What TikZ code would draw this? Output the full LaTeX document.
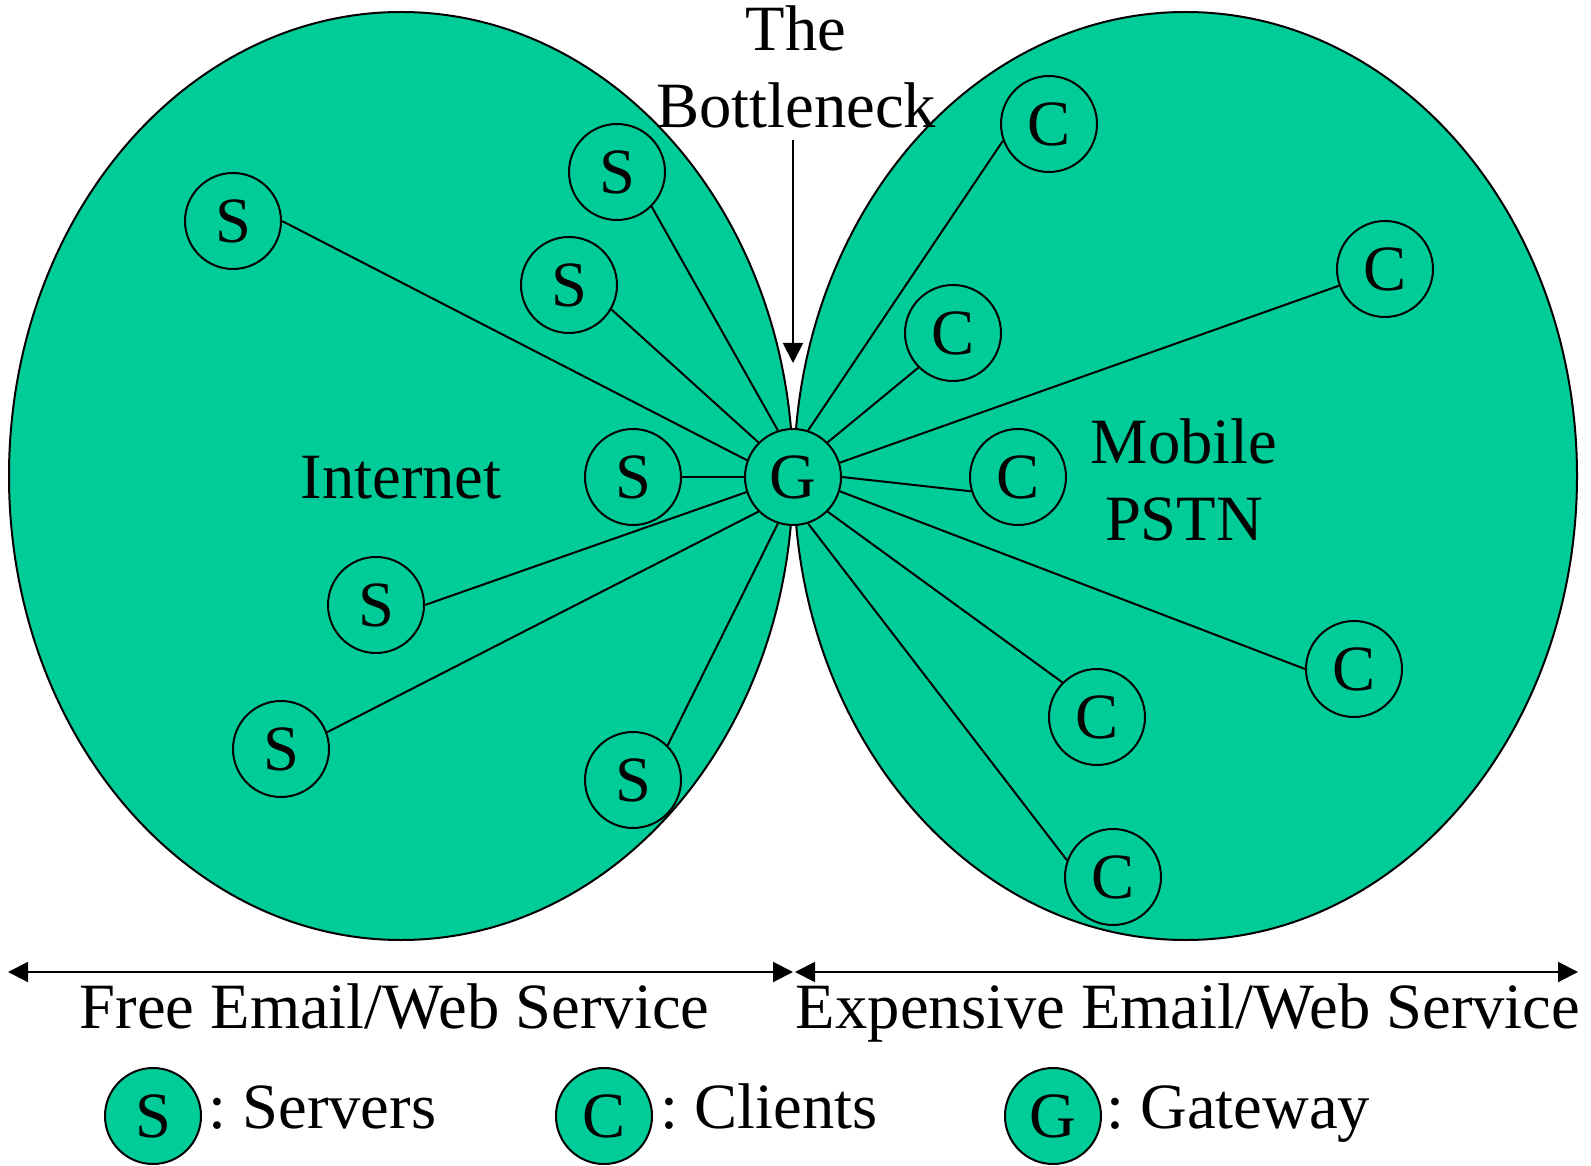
\documentclass[tikz,border=0pt]{standalone}
\usepackage{fontspec}
\setmainfont{Liberation Serif}
\usetikzlibrary{arrows.meta}
\frenchspacing

\definecolor{netgreen}{RGB}{0,204,153}

\begin{document}
\begin{tikzpicture}[x=0.5pt,y=-0.5pt,
		font=\fontsize{32.3}{38.5}\selectfont,
		zone/.style={fill=netgreen,draw=black,line width=1pt},
		host/.style={circle,fill=netgreen,draw=black,line width=1pt,minimum size=48pt,inner sep=0pt},
		link/.style={line width=1pt},
		span/.style={line width=1pt,{Triangle[length=10pt,width=10pt]}-{Triangle[length=10pt,width=10pt]}}]

	\useasboundingbox (0,0) rectangle (1591,1166);

	\draw[zone] (401,476) ellipse [x radius=196pt, y radius=232pt];
	\draw[zone] (1185.5,476) ellipse [x radius=195.75pt, y radius=232pt];
	\node[anchor=base] (inet) at (401,498) {Internet};
	\node[anchor=base,align=center] (pstn) at (1184,540) {Mobile\\PSTN};

	\node[anchor=base,align=center,inner sep=6pt,text depth=0pt] (bn) at (796,128) {The\\Bottleneck};
	\coordinate (neck) at (793,363);
	\draw[link,-{Triangle[length=10pt,width=10pt]}] (bn.south -| neck) -- (neck);

	\node[host] (g) at (793,477) {G};
	\node[host] (s1) at (233,221) {S};
	\node[host] (s2) at (617,172) {S};
	\node[host] (s3) at (569,285) {S};
	\node[host] (s4) at (633,477) {S};
	\node[host] (s5) at (376,605) {S};
	\node[host] (s6) at (281,749) {S};
	\node[host] (s7) at (633,780) {S};
	\node[host] (c1) at (1049,124) {C};
	\node[host] (c2) at (1385,269) {C};
	\node[host] (c3) at (953,333) {C};
	\node[host] (c4) at (1018,477) {C};
	\node[host] (c5) at (1354,669) {C};
	\node[host] (c6) at (1097,717) {C};
	\node[host] (c7) at (1113,877) {C};

	\draw[link] (s1.east) -- (g.160);
	\draw[link] (s2.315) -- (g.108);
	\draw[link] (s3.330) -- (g.135);
	\draw[link] (s4.east) -- (g.west);
	\draw[link] (s5.east) -- (g.198);
	\draw[link] (s6.20) -- (g.225);
	\draw[link] (s7.45) -- (g.252);
	\draw[link] (c1.200) -- (g.72);
	\draw[link] (c2.200) -- (g.17);
	\draw[link] (c3.225) -- (g.45);
	\draw[link] (c4.197) -- (g.east);
	\draw[link] (c5.west) -- (g.343);
	\draw[link] (c6.135) -- (g.315);
	\draw[link] (c7.160) -- (g.288);

	\coordinate (freeL) at (8,972);
	\coordinate (freeR) at (793,972);
	\coordinate (costL) at (795,972);
	\coordinate (costR) at (1578,972);
	\draw[span] (freeL) -- (freeR);
	\draw[span] (costL) -- (costR);
	\node[anchor=base] (free) at (394.5,1028) {Free Email/Web Service};
	\node[anchor=base] (cost) at (1188,1028) {Expensive Email/Web Service};

	\node[host] (keys) at (153,1116) {S};
	\node[anchor=base west,inner sep=0pt] (keysl) at (208,1128) {: Servers};
	\node[host] (keyc) at (604,1116) {C};
	\node[anchor=base west,inner sep=0pt] (keycl) at (660,1128) {: Clients};
	\node[host] (keyg) at (1053,1116) {G};
	\node[anchor=base west,inner sep=0pt] (keygl) at (1106,1128) {: Gateway};

\end{tikzpicture}
\end{document}
